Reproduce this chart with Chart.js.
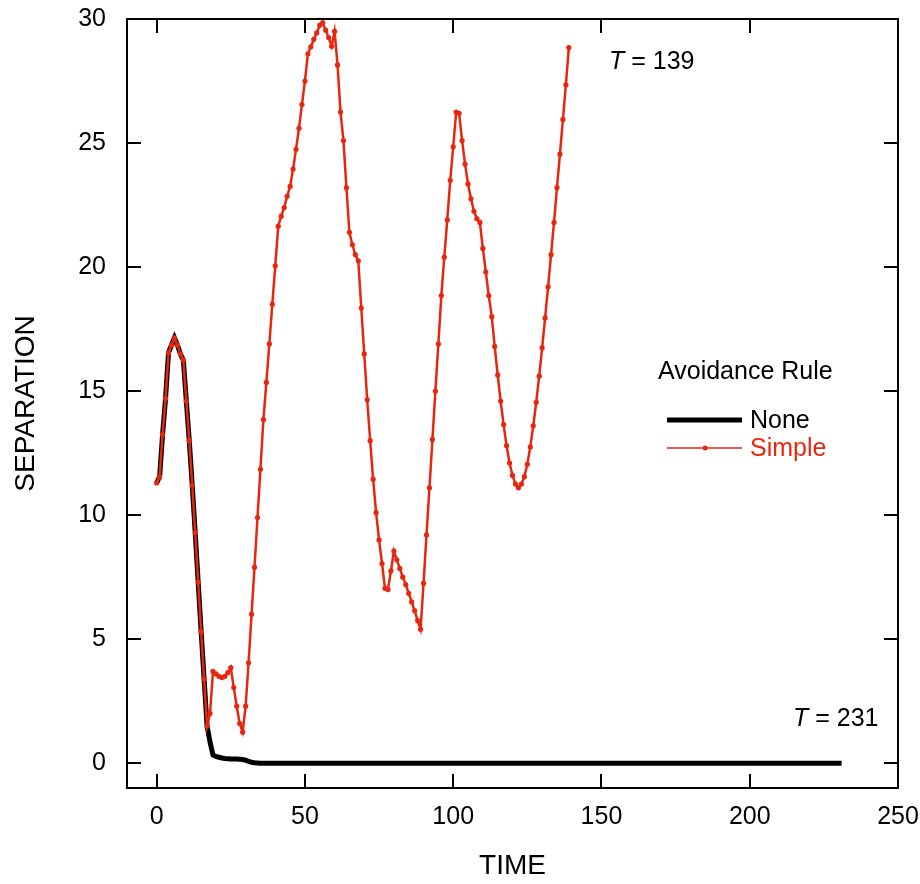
<!DOCTYPE html>
<html>
<head>
<meta charset="utf-8">
<script src="https://cdn.jsdelivr.net/npm/chart.js@4.4.0/dist/chart.umd.min.js"></script>
<style>
html, body { margin: 0; padding: 0; background: #fff; }
canvas { display: block; }
</style>
</head>
<body>
<canvas id="myChart" width="920" height="884" style="width:920px;height:884px"></canvas>
<script>
// separation per time step (t = 0, 1, 2, ...)
var simpleSep = [
	11.3, 11.55, 13.25, 14.7, 16.55, 16.85, 17.15, 16.85, 16.5, 16.25,
	14.6, 13.0, 11.2, 9.3, 7.3, 5.3, 3.4, 1.5, 2.0, 3.7,
	3.6, 3.5, 3.45, 3.5, 3.65, 3.85, 3.05, 2.3, 1.6, 1.25,
	2.3, 4.05, 6.0, 7.9, 9.9, 11.85, 13.85, 15.35, 16.9, 18.5,
	20.05, 21.65, 22.05, 22.4, 22.85, 23.25, 23.95, 24.75, 25.6, 26.55,
	27.5, 28.6, 28.88, 29.18, 29.44, 29.75, 29.85, 29.55, 29.25, 28.9,
	29.5, 28.15, 26.25, 25.1, 23.2, 21.4, 20.9, 20.5, 20.25, 18.35,
	16.5, 14.65, 13.0, 11.45, 10.1, 9.0, 8.05, 7.05, 7.0, 7.75,
	8.55, 8.2, 7.85, 7.5, 7.2, 6.85, 6.5, 6.15, 5.75, 5.4,
	7.25, 9.2, 11.1, 13.05, 15.0, 16.9, 18.85, 20.4, 21.9, 23.5,
	24.85, 26.25, 26.2, 25.1, 24.15, 23.35, 22.75, 22.25, 21.95, 21.8,
	20.75, 19.8, 18.85, 18.0, 16.8, 15.65, 14.6, 13.65, 12.8, 12.1,
	11.6, 11.25, 11.1, 11.25, 11.55, 12.05, 12.75, 13.6, 14.55, 15.6,
	16.75, 17.95, 19.2, 20.5, 21.8, 23.2, 24.55, 25.95, 27.35, 28.85
];

var noneSep = [
	11.3, 11.55, 13.25, 14.7, 16.55, 16.85, 17.15, 16.85, 16.5, 16.25,
	14.6, 13.0, 11.2, 9.3, 7.3, 5.3, 3.4, 1.5, 0.85, 0.33,
	0.27, 0.24, 0.21, 0.19, 0.18, 0.17, 0.17, 0.17, 0.16, 0.15,
	0.12, 0.07, 0.04, 0.02, 0.01,
	0, 0, 0, 0, 0, 0, 0, 0, 0, 0, 0, 0, 0, 0, 0, 0, 0, 0, 0, 0,
	0, 0, 0, 0, 0, 0, 0, 0, 0, 0, 0, 0, 0, 0, 0, 0, 0, 0, 0, 0,
	0, 0, 0, 0, 0, 0, 0, 0, 0, 0, 0, 0, 0, 0, 0, 0, 0, 0, 0, 0,
	0, 0, 0, 0, 0, 0, 0, 0, 0, 0, 0, 0, 0, 0, 0, 0, 0, 0, 0, 0,
	0, 0, 0, 0, 0, 0, 0, 0, 0, 0, 0, 0, 0, 0, 0, 0, 0, 0, 0, 0,
	0, 0, 0, 0, 0, 0, 0, 0, 0, 0, 0, 0, 0, 0, 0, 0, 0, 0, 0, 0,
	0, 0, 0, 0, 0, 0, 0, 0, 0, 0, 0, 0, 0, 0, 0, 0, 0, 0, 0, 0,
	0, 0, 0, 0, 0, 0, 0, 0, 0, 0, 0, 0, 0, 0, 0, 0, 0, 0, 0, 0,
	0, 0, 0, 0, 0, 0, 0, 0, 0, 0, 0, 0, 0, 0, 0, 0, 0, 0, 0, 0,
	0, 0, 0, 0, 0, 0, 0, 0, 0, 0, 0, 0, 0, 0, 0, 0, 0
];

var xTicks = [0, 50, 100, 150, 200, 250];
var yTicks = [0, 5, 10, 15, 20, 25, 30];
var legendTitle = "Avoidance Rule";
var seriesNames = ["None", "Simple"];
var endLabels = ["139", "231"];

var RED = "rgb(232, 38, 14)";
var FONT = "'Liberation Sans', Arial, sans-serif";

function toPoints(arr){
	var pts = [];
	for (var i = 0; i < arr.length; i++) {
		pts.push({x: i, y: arr[i]});
	}
	return pts;
}

// frame with inward ticks on all four sides, legend and T labels
var framePlugin = {
	id: "frame",
	afterDraw: function(chart){
		var ctx = chart.ctx;
		var a = chart.chartArea;
		var xs = chart.scales.x, ys = chart.scales.y;
		var tl = 14;
		ctx.save();
		ctx.strokeStyle = "#000";
		ctx.lineWidth = 2;
		ctx.strokeRect(a.left, a.top, a.right - a.left, a.bottom - a.top);
		ctx.beginPath();
		xTicks.forEach(function(v){
			var px = Math.round(xs.getPixelForValue(v));
			ctx.moveTo(px, a.bottom); ctx.lineTo(px, a.bottom - tl);
			ctx.moveTo(px, a.top); ctx.lineTo(px, a.top + tl);
		});
		yTicks.forEach(function(v){
			var py = Math.round(ys.getPixelForValue(v));
			ctx.moveTo(a.left, py); ctx.lineTo(a.left + tl, py);
			ctx.moveTo(a.right, py); ctx.lineTo(a.right - tl, py);
		});
		ctx.stroke();

		// legend
		ctx.textBaseline = "middle";
		ctx.textAlign = "left";
		ctx.font = "25px " + FONT;
		ctx.fillStyle = "#000";
		ctx.fillText(legendTitle, 658, 372);

		ctx.lineWidth = 5;
		ctx.strokeStyle = "#000";
		ctx.beginPath();
		ctx.moveTo(667, 420); ctx.lineTo(742, 420);
		ctx.stroke();
		ctx.fillText(seriesNames[0], 750, 421);

		ctx.lineWidth = 1.5;
		ctx.strokeStyle = RED;
		ctx.beginPath();
		ctx.moveTo(667, 448); ctx.lineTo(742, 448);
		ctx.stroke();
		ctx.fillStyle = RED;
		ctx.beginPath();
		ctx.arc(705, 448, 2.5, 0, Math.PI * 2);
		ctx.fill();
		ctx.fillText(seriesNames[1], 750, 449);

		// end-time labels
		ctx.fillStyle = "#000";
		drawT(ctx, endLabels[0], 609, 62);
		drawT(ctx, endLabels[1], 793, 719);
		ctx.restore();
	}
};

function drawT(ctx, num, x, y){
	ctx.font = "italic 25px " + FONT;
	ctx.fillText("T", x, y);
	var w = ctx.measureText("T").width;
	ctx.font = "25px " + FONT;
	ctx.fillText(" = " + num, x + w, y);
}

var myChart = new Chart(document.getElementById("myChart"), {
	type: "line",
	data: {
		datasets: [{
			label: seriesNames[0],
			data: toPoints(noneSep),
			borderColor: "#000",
			borderWidth: 5,
			pointRadius: 0,
			tension: 0,
			fill: false,
			order: 2
		}, {
			label: seriesNames[1],
			data: toPoints(simpleSep),
			borderColor: RED,
			backgroundColor: RED,
			borderWidth: 2.5,
			pointRadius: 2.6,
			pointBorderWidth: 0,
			pointBackgroundColor: RED,
			tension: 0,
			fill: false,
			order: 1
		}]
	},
	options: {
		responsive: false,
		animation: false,
		devicePixelRatio: 1,
		layout: {padding: {top: 19, right: 22, left: 0, bottom: 0}},
		plugins: {
			legend: {display: false},
			tooltip: {enabled: false}
		},
		scales: {
			x: {
				type: "linear",
				min: -10,
				max: 250,
				afterBuildTicks: function(s){ s.ticks = xTicks.map(function(v){ return {value: v}; }); },
				afterFit: function(s){ s.height = 96; s.paddingLeft = 0; s.paddingRight = 0; },
				grid: {display: false, drawTicks: false},
				border: {display: false},
				ticks: {color: "#000", font: {family: FONT, size: 25}, padding: 14, maxRotation: 0},
				title: {display: true, text: "TIME", color: "#000", font: {family: FONT, size: 28}, padding: {top: 0, bottom: 1}}
			},
			y: {
				type: "linear",
				min: -1,
				max: 30,
				afterBuildTicks: function(s){ s.ticks = yTicks.map(function(v){ return {value: v}; }); },
				afterFit: function(s){ s.width = 127; s.paddingTop = 0; s.paddingBottom = 0; },
				grid: {display: false, drawTicks: false},
				border: {display: false},
				ticks: {color: "#000", font: {family: FONT, size: 25}, padding: 21},
				title: {display: true, text: "SEPARATION", color: "#000", font: {family: FONT, size: 28}, padding: {top: 9, bottom: 0}}
			}
		}
	},
	plugins: [framePlugin]
});
</script>
</body>
</html>
